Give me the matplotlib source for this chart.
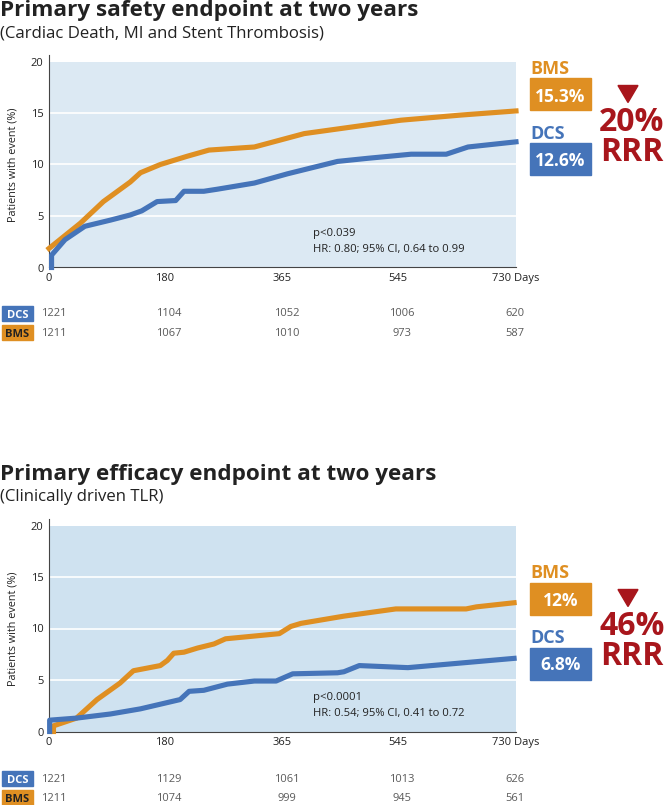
import matplotlib
matplotlib.use("Agg")
import matplotlib.pyplot as plt
from matplotlib.patches import Rectangle, Polygon

plt.rcParams["font.family"] = ["Open Sans", "DejaVu Sans"]

W, H = 669, 805

ORANGE = "#df8f22"
BLUE = "#4574b9"
RED = "#a8161c"
TEXT = "#222222"
GREY = "#5a5a5a"

# safety endpoint (cardiac death, MI, stent thrombosis)
safety_bms_days = [0, 25, 49, 85, 127, 143, 174, 216, 250, 321, 399, 457, 550, 644, 730]
safety_bms_pct = [1.85, 3.1, 4.3, 6.4, 8.3, 9.2, 10.0, 10.8, 11.4, 11.7, 13.0, 13.5, 14.3, 14.8, 15.2]
safety_dcs_days = [4, 4, 25, 56, 96, 127, 145, 169, 198, 211, 242, 263, 321, 373, 451,
                   498, 566, 621, 655, 730]
safety_dcs_pct = [0, 1.2, 2.7, 4.0, 4.6, 5.1, 5.5, 6.4, 6.5, 7.4, 7.4, 7.6, 8.2, 9.1, 10.3,
                  10.6, 11.0, 11.0, 11.7, 12.2]

# efficacy endpoint (clinically driven TLR)
efficacy_bms_days = [7, 7, 43, 75, 111, 132, 174, 185, 195, 211, 232, 258, 276, 360, 378,
                     394, 461, 542, 652, 668, 727]
efficacy_bms_pct = [0, 0.55, 1.3, 3.1, 4.7, 5.9, 6.4, 6.9, 7.6, 7.7, 8.1, 8.5, 9.0, 9.5, 10.2,
                    10.5, 11.2, 11.9, 11.9, 12.1, 12.5]
efficacy_dcs_days = [1, 1, 43, 96, 143, 205, 219, 242, 279, 321, 355, 381, 451, 461, 485,
                     561, 727]
efficacy_dcs_pct = [0, 1.1, 1.3, 1.7, 2.2, 3.1, 3.9, 4.0, 4.6, 4.9, 4.9, 5.6, 5.7, 5.8, 6.4,
                    6.2, 7.1]

x_ticks = [0, 180, 365, 545, 730]
x_tick_labels = ["0", "180", "365", "545", "730 Days"]
y_ticks = [0, 5, 10, 15, 20]

safety_risk_dcs = [1221, 1104, 1052, 1006, 620]
safety_risk_bms = [1211, 1067, 1010, 973, 587]
efficacy_risk_dcs = [1221, 1129, 1061, 1013, 626]
efficacy_risk_bms = [1211, 1074, 999, 945, 561]


def fx(x):
    return x / W


def fy(y):
    return 1 - y / H


def box_text(fig, x0, y0, x1, y1, color, label, txtcolor, size, weight="bold"):
    fig.patches.append(Rectangle((fx(x0), fy(y1)), fx(x1 - x0), (y1 - y0) / H,
                                 transform=fig.transFigure, color=color, zorder=1))
    fig.text(fx((x0 + x1) / 2), fy((y0 + y1) / 2), label, color=txtcolor,
             fontsize=size, fontweight=weight, ha="center", va="center_baseline", zorder=2)


def panel(fig, top, anno, title, subtitle, bms_d, bms_p, dcs_d, dcs_p, bg,
          p_text, hr_text, bms_val, dcs_val, rrr, risk_dcs, risk_bms, risk_y):
    # top = pixel y of the 20% line, anno = pixel y where the right-hand summary starts
    ax = fig.add_axes([fx(49), fy(top + 206), fx(516 - 49), 206 / H])
    ax.set_facecolor(bg)
    ax.set_xlim(0, 730)
    ax.set_ylim(0, 20)
    for v in [5, 10, 15]:
        ax.axhline(v, color="white", lw=1.2, zorder=1)
    ax.plot(bms_d, bms_p, color=ORANGE, lw=3.7, solid_joinstyle="round", zorder=3,
            clip_on=False)
    ax.plot(dcs_d, dcs_p, color=BLUE, lw=3.7, solid_joinstyle="round", zorder=4,
            clip_on=False)
    for s in ["top", "right"]:
        ax.spines[s].set_visible(False)
    ax.spines["left"].set_color("#444444")
    ax.spines["bottom"].set_color("#444444")
    ax.spines["left"].set_bounds(0, 20.6)
    ax.set_xticks(x_ticks)
    ax.set_xticklabels(x_tick_labels, fontsize=8, color=TEXT)
    ax.set_yticks(y_ticks)
    ax.set_yticklabels([str(v) for v in y_ticks], fontsize=8, color=TEXT)
    ax.tick_params(length=0, pad=4)
    ax.set_ylabel("Patients with event (%)", fontsize=7.8, color=TEXT, labelpad=9)
    ax.text(413, 3.1, p_text, fontsize=8.1, color=TEXT)
    ax.text(413, 1.5, hr_text, fontsize=8.1, color=TEXT)

    fig.text(0, fy(top - 45.5), title, fontsize=16.2, fontweight="bold", color=TEXT,
             va="baseline")
    fig.text(0, fy(top - 24.5), subtitle, fontsize=12.1, color=TEXT, va="baseline")

    # right-hand summary
    fig.text(fx(530), fy(anno + 7), "BMS", color=ORANGE, fontsize=13, fontweight="bold",
             va="center")
    box_text(fig, 530, anno + 17, 591, anno + 49, ORANGE, bms_val, "white", 12.5)
    fig.text(fx(530), fy(anno + 72), "DCS", color=BLUE, fontsize=13, fontweight="bold",
             va="center")
    box_text(fig, 530, anno + 82, 591, anno + 114, BLUE, dcs_val, "white", 12.5)
    cx = 628
    fig.patches.append(Polygon([(fx(cx - 10), fy(anno + 24)), (fx(cx + 10), fy(anno + 24)),
                                (fx(cx), fy(anno + 41))], closed=True,
                               transform=fig.transFigure, color=RED))
    fig.text(fx(632), fy(anno + 61), rrr, color=RED, fontsize=23, fontweight="bold",
             ha="center", va="center")
    fig.text(fx(632), fy(anno + 91), "RRR", color=RED, fontsize=23, fontweight="bold",
             ha="center", va="center")

    # numbers at risk
    box_text(fig, 2, risk_y - 8, 33, risk_y + 7, BLUE, "DCS", "white", 8)
    box_text(fig, 2, risk_y + 11, 33, risk_y + 26, ORANGE, "BMS", TEXT, 8)
    for d, a, b in zip(x_ticks, risk_dcs, risk_bms):
        xp = 49 + d * 0.638 + (5 if d < 700 else 0)
        fig.text(fx(xp), fy(risk_y), str(a), fontsize=8, color=GREY, ha="center",
                 va="center")
        fig.text(fx(xp), fy(risk_y + 19), str(b), fontsize=8, color=GREY, ha="center",
                 va="center")
    return ax


fig = plt.figure(figsize=(W / 100, H / 100), dpi=100)

panel(fig, 61.5, 61.5, "Primary safety endpoint at two years",
      "(Cardiac Death, MI and Stent Thrombosis)",
      safety_bms_days, safety_bms_pct, safety_dcs_days, safety_dcs_pct, "#dce9f3",
      "p<0.039", "HR: 0.80; 95% CI, 0.64 to 0.99", "15.3%", "12.6%", "20%",
      safety_risk_dcs, safety_risk_bms, 314)

panel(fig, 525.5, 565.5, "Primary efficacy endpoint at two years",
      "(Clinically driven TLR)",
      efficacy_bms_days, efficacy_bms_pct, efficacy_dcs_days, efficacy_dcs_pct, "#cfe2f0",
      "p<0.0001", "HR: 0.54; 95% CI, 0.41 to 0.72", "12%", "6.8%", "46%",
      efficacy_risk_dcs, efficacy_risk_bms, 779)

fig.savefig("out.png", dpi=100)
